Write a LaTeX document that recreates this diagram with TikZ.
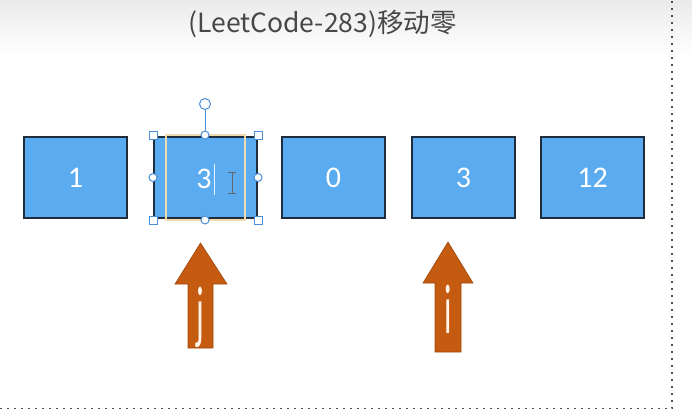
\documentclass[tikz,border=0pt]{standalone}
\usepackage{fontspec}
\setmainfont{Carlito}
\newfontfamily\cjk{Noto Sans CJK SC}
\definecolor{cellfill}{HTML}{5AABF0}
\definecolor{cellline}{HTML}{1F2D3D}
\definecolor{arrowfill}{HTML}{C55A11}
\definecolor{handle}{HTML}{4A8FD8}
\definecolor{frametan}{HTML}{F0DBAE}
\tikzset{
  cell/.style={draw=cellline, line width=2pt, fill=cellfill, minimum width=103pt, minimum height=81pt,
    inner sep=0pt, text=white, font=\fontsize{30}{30}\selectfont},
  ptrarrow/.style={fill=arrowfill, draw=arrowfill!80!black, line width=0.6pt},
  ptrlabel/.style={text=white!92!orange, font=\fontsize{38}{38}\selectfont, inner sep=0pt, anchor=base},
  sqhandle/.style={draw=handle, fill=white, line width=1pt, minimum size=8pt, inner sep=0pt, rectangle},
  rdhandle/.style={draw=handle, fill=white, line width=1pt, minimum size=8pt, inner sep=0pt, circle},
}
\begin{document}
\begin{tikzpicture}[x=1pt,y=-1pt]
\useasboundingbox (0,0) rectangle (692,412);
\shade[top color=black!8, bottom color=white] (0,0) rectangle (692,55);
\node[text=black!72, font=\cjk\fontsize{26.5}{26.5}\selectfont, inner sep=0pt] (title) at (322.5,24) {(LeetCode-283)移动零};
% cells
\node[cell] (b1) at (75.5,177.5) {1};
\node[cell] (b2) at (205.5,177.5) {};
\node[cell] (b3) at (333.5,177.5) {0};
\node[cell] (b4) at (463.5,177.5) {3};
\node[cell] (b5) at (592.5,177.5) {12};
% text frame inside selected cell
\draw[frametan, line width=1.5pt] (166,135) rectangle (245,220);
\node[text=white, font=\fontsize{30}{30}\selectfont, inner sep=0pt] (b2t) at (204,179) {3};
\draw[white!85!cellfill, line width=1pt] (214.5,164) -- (214.5,195);
% I-beam cursor
\draw[black!60, line width=1pt] (232,172) -- (232,193) (228,172) -- (236,172) (228,193) -- (236,193);
% selection handles
\draw[handle, line width=1pt] (205,110) -- (205,131);
\node[draw=handle, fill=white, line width=1pt, circle, minimum size=11pt, inner sep=0pt] (rot) at (205,104) {};
\node[sqhandle] (h1) at (153,135) {};
\node[sqhandle] (h2) at (258,135) {};
\node[sqhandle] (h3) at (153,220) {};
\node[sqhandle] (h4) at (258,220) {};
\node[rdhandle] (h5) at (153,177.5) {};
\node[rdhandle] (h6) at (258,177.5) {};
\node[rdhandle] (h7) at (205,135) {};
\node[rdhandle] (h8) at (205,220) {};
% arrows j and i
\draw[ptrarrow] (188,348) -- (188,284) -- (175,284) -- (200.5,243) -- (227,284) -- (213,284) -- (213,348) -- cycle;
\node[ptrlabel] (lj) at (200,335) {\scalebox{0.85}[1.85]{j}};
\draw[ptrarrow] (435,352) -- (435,283) -- (423,283) -- (448,242) -- (473,283) -- (461,283) -- (461,352) -- cycle;
\node[ptrlabel] (li) at (448,333) {\scalebox{0.85}[1.85]{i}};
% dotted frame
\draw[black!70, line width=1.6pt, dash pattern=on 1.6pt off 5.4pt] (0,408.5) -- (672,408.5) -- (672,0);
\end{tikzpicture}
\end{document}
